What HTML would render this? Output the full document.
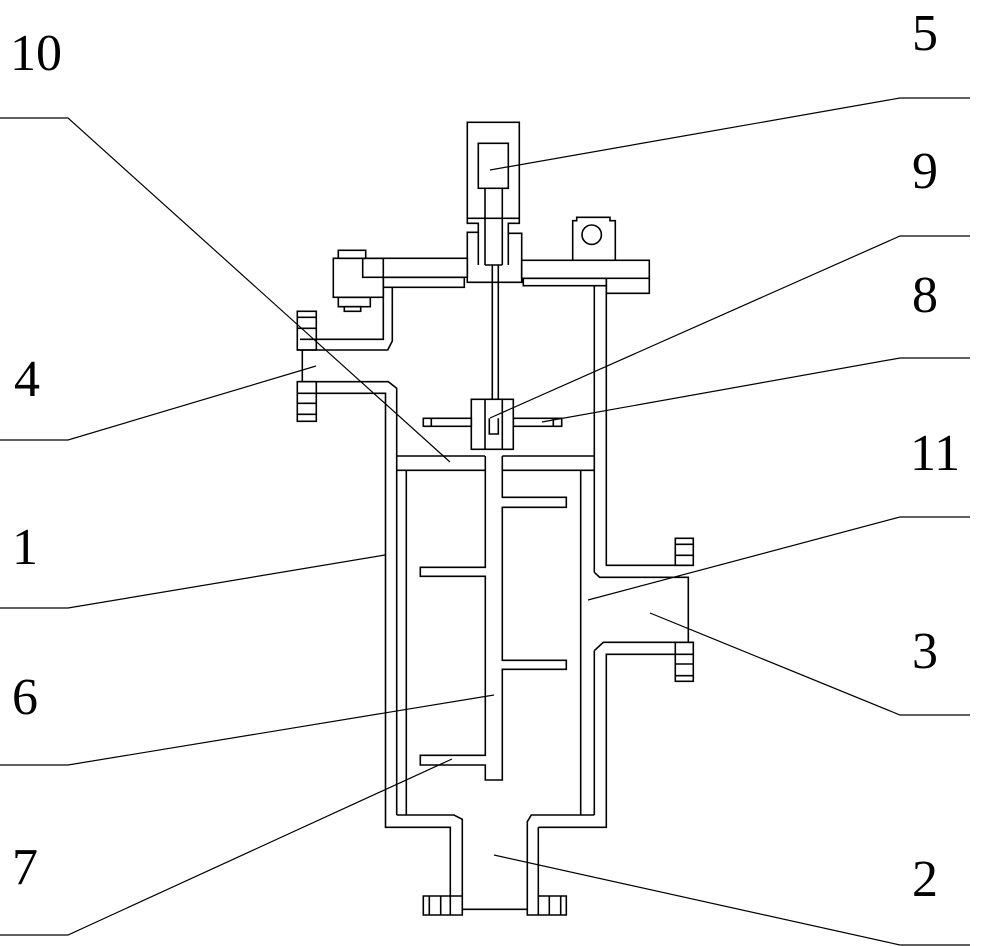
<!DOCTYPE html>
<html><head><style>
html,body{margin:0;padding:0;background:#fff;}
svg{display:block}
text{font-family:"Liberation Serif",serif;font-size:52px;fill:#000}
</style></head><body>
<svg width="984" height="946" viewBox="0 0 984 946" xmlns="http://www.w3.org/2000/svg">
<g fill="none" stroke="#000" stroke-width="1.6">
<!-- motor 5 -->
<rect x="467.3" y="122.3" width="52" height="96"/>
<rect x="478.3" y="143.3" width="30" height="45"/>
<line x1="485" y1="188.3" x2="485" y2="265"/>
<line x1="502.3" y1="188.3" x2="502.3" y2="265"/>
<line x1="485" y1="265" x2="502.3" y2="265"/>
<polyline points="467.3,218.3 467.3,223.3 478.3,223.3 478.3,232.3 467.3,232.3 467.3,282.3 521.7,282.3 521.7,233.3 508.3,233.3 508.3,223.3 519.3,223.3 519.3,218.3"/>
<line x1="478.3" y1="232.3" x2="478.3" y2="265"/>
<line x1="508.3" y1="233.3" x2="508.3" y2="265"/>
<!-- left arm -->
<rect x="362.7" y="258.3" width="104.6" height="19"/>
<rect x="333.3" y="258.3" width="50" height="39"/>
<rect x="338.3" y="250.3" width="27.4" height="8"/>
<rect x="338.3" y="297.3" width="32" height="9.4"/>
<rect x="344.3" y="306.7" width="16.4" height="4.6"/>
<rect x="383.3" y="277.3" width="81" height="10"/>
<polyline points="383.3,287.3 383.3,339.3 300,339.3"/>
<polyline points="392.3,287.3 392.3,341 387.7,350 297.3,350"/>
<!-- left flange 4 -->
<rect x="297.3" y="311.3" width="19" height="38.7"/>
<line x1="297.3" y1="317.3" x2="316.3" y2="317.3"/>
<line x1="297.3" y1="328.3" x2="316.3" y2="328.3"/>
<line x1="302.3" y1="350" x2="302.3" y2="381.7"/>
<polyline points="297.3,381.7 388.3,381.7 396.7,388.3 396.7,815"/>
<rect x="297.3" y="381.7" width="19" height="39.6"/>
<line x1="297.3" y1="393.3" x2="316.3" y2="393.3"/>
<line x1="297.3" y1="403.3" x2="316.3" y2="403.3"/>
<line x1="297.3" y1="414.3" x2="316.3" y2="414.3"/>
<polyline points="316.3,393.3 385.5,393.3 385.5,827.3 450.3,827.3 450.3,915"/>
<!-- right plate -->
<rect x="521.7" y="260.3" width="127.6" height="18"/>
<rect x="523.3" y="278.3" width="83" height="7.4"/>
<polyline points="606.3,278.3 606.3,293.3 649.3,293.3 649.3,278.3"/>
<polyline points="572.7,260.3 572.7,220.7 576.7,220.7 576.7,217.3 610,217.3 610,220.7 615.3,220.7 615.3,260.3"/>
<circle cx="591.7" cy="234.7" r="9.7"/>
<!-- shaft -->
<line x1="492.3" y1="265" x2="492.3" y2="399.3"/>
<line x1="498.3" y1="265" x2="498.3" y2="399.3"/>
<rect x="471.3" y="399.3" width="42" height="50"/>
<line x1="485" y1="399.3" x2="485" y2="449.3"/>
<line x1="502.3" y1="399.3" x2="502.3" y2="449.3"/>
<polyline points="489.3,418.3 489.3,434 498.3,434 498.3,418.3"/>
<rect x="423.3" y="418.3" width="48" height="8"/>
<rect x="513.3" y="418.3" width="48.4" height="8"/>
<line x1="431.3" y1="418.3" x2="431.3" y2="426.3"/>
<line x1="553.3" y1="418.3" x2="553.3" y2="426.3"/>
<!-- plate 10 -->
<line x1="396.7" y1="456" x2="485" y2="456"/>
<line x1="502.3" y1="456" x2="594.3" y2="456"/>
<line x1="396.7" y1="470.3" x2="485.3" y2="470.3"/>
<line x1="502.3" y1="470.3" x2="594.3" y2="470.3"/>
<!-- agitator shaft + paddles -->
<polyline points="485.3,456 485.3,567.3 420.3,567.3 420.3,576.3 485.3,576.3 485.3,755.3 420.3,755.3 420.3,765 485.3,765 485.3,780 502.3,780 502.3,669.3 566.3,669.3 566.3,660.3 502.3,660.3 502.3,507.3 566.3,507.3 566.3,497.3 502.3,497.3 502.3,456"/>
<!-- inner liner -->
<polyline points="406.3,470.3 406.3,815"/>
<polyline points="396.7,815 454,815 462.3,819.3 462.3,915 423.3,915 423.3,896 462.3,896"/>
<line x1="429.3" y1="896" x2="429.3" y2="915"/>
<line x1="440.7" y1="896" x2="440.7" y2="915"/>
<line x1="462.3" y1="909.3" x2="527.3" y2="909.3"/>
<line x1="580.7" y1="470.3" x2="580.7" y2="815"/>
<polyline points="594.3,815 531.3,815 527.3,821.7 527.3,915 566.3,915 566.3,896 538.3,896"/>
<line x1="538.3" y1="827.3" x2="538.3" y2="915"/>
<line x1="549.3" y1="896" x2="549.3" y2="915"/>
<line x1="560.7" y1="896" x2="560.7" y2="915"/>
<polyline points="538.3,827.3 606.3,827.3 606.3,654.3 675.3,654.3"/>
<line x1="594.3" y1="285.7" x2="594.3" y2="572.3"/>
<line x1="594.3" y1="650.7" x2="594.3" y2="815"/>
<polyline points="606.3,285.7 606.3,565.3 693.3,565.3"/>
<rect x="675.3" y="538.3" width="18" height="27"/>
<line x1="675.3" y1="544.3" x2="693.3" y2="544.3"/>
<line x1="675.3" y1="555.3" x2="693.3" y2="555.3"/>
<polyline points="594.3,572.3 599.7,577.3 688.3,577.3 688.3,642.3 603.3,642.3 594.3,650.7"/>
<line x1="688.3" y1="642.3" x2="693.3" y2="642.3"/>
<rect x="675.3" y="642.3" width="18" height="39"/>
<line x1="675.3" y1="654.3" x2="693.3" y2="654.3"/>
<line x1="675.3" y1="664" x2="693.3" y2="664"/>
<line x1="675.3" y1="675.7" x2="693.3" y2="675.7"/>
</g>
<g fill="none" stroke="#000" stroke-width="1.2">
<polyline points="970,98 900,98 490,170"/>
<polyline points="0,118 68,118 450,462"/>
<polyline points="970,236 900,236 490,418"/>
<polyline points="970,358 900,358 542,422"/>
<polyline points="0,440 68,440 316,366"/>
<polyline points="970,517 900,517 588,600"/>
<polyline points="0,608 68,608 385,555"/>
<polyline points="970,715 900,715 650,613"/>
<polyline points="0,765 68,765 494,695"/>
<polyline points="0,935 68,935 452,759"/>
<polyline points="970,945 900,945 494,855"/>
</g>
<text x="10" y="70">10</text>
<text x="912" y="50">5</text>
<text x="912" y="188">9</text>
<text x="912" y="312">8</text>
<text x="14" y="396">4</text>
<text x="910" y="470">11</text>
<text x="12" y="564">1</text>
<text x="912" y="668">3</text>
<text x="12" y="714">6</text>
<text x="12" y="884">7</text>
<text x="912" y="896">2</text>
</svg>
</body></html>
